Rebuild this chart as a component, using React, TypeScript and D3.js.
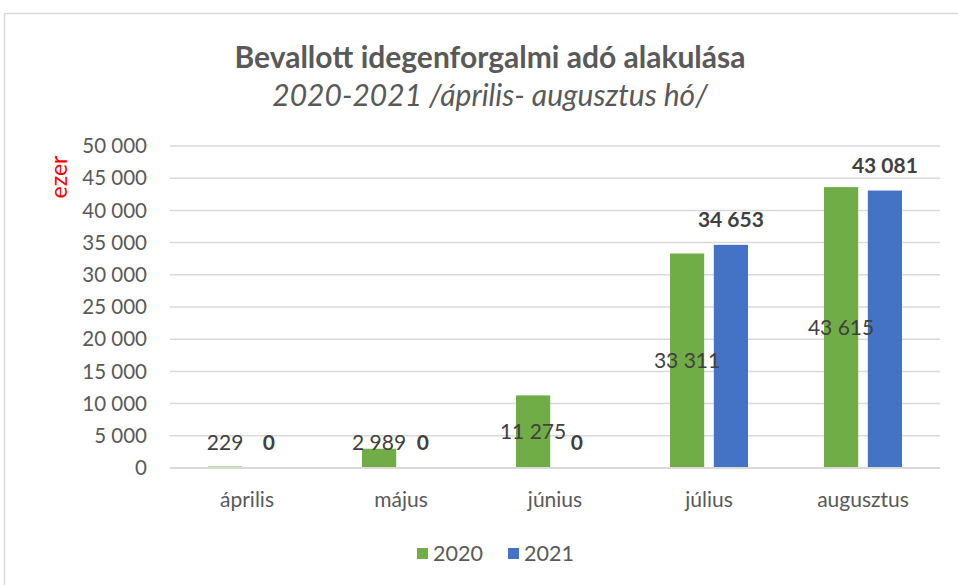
import * as d3 from "d3";
import { useEffect, useRef } from "react";

const months = ["április", "május", "június", "július", "augusztus"];
const seriesNames = ["2020", "2021"];
const values2020 = [229, 2989, 11275, 33311, 43615];
const values2021 = [0, 0, 0, 34653, 43081];
const yTicks = [0, 5000, 10000, 15000, 20000, 25000, 30000, 35000, 40000, 45000, 50000];

const colors = { "2020": "#70ad47", "2021": "#4472c4" };
const textColor = "#595959";
const font = "Lato, 'Open Sans', sans-serif";

function App() {
  const ref = useRef(null);

  useEffect(() => {
    const svg = d3.select(ref.current);
    svg.selectAll("*").remove();

    const width = 958;
    const height = 585;
    const left = 170;
    const right = 940;
    const top = 146;
    const bottom = 468;

    const fmt = d3.formatLocale({
      decimal: ",",
      thousands: " ",
      grouping: [3],
      currency: ["", ""],
    }).format(",d");

    svg.attr("width", width).attr("height", height);

    // outer frame (top + left edge)
    svg
      .append("path")
      .attr("d", `M4.5,${height} V13.5 H${width}`)
      .attr("fill", "none")
      .attr("stroke", "#d9d9d9")
      .attr("stroke-width", 1.5);

    const x0 = d3.scaleBand().domain(months).range([left, right]).padding(0);
    const pair = 78;
    const x1 = d3
      .scaleBand()
      .domain(seriesNames)
      .range([(x0.bandwidth() - pair) / 2, (x0.bandwidth() + pair) / 2])
      .paddingInner(0.22);
    const y = d3.scaleLinear().domain([0, 50000]).range([bottom, top]);

    // gridlines
    svg
      .append("g")
      .selectAll("line")
      .data(yTicks.filter((d) => d > 0))
      .join("line")
      .attr("x1", left)
      .attr("x2", right)
      .attr("y1", (d) => y(d))
      .attr("y2", (d) => y(d))
      .attr("stroke", "#d9d9d9")
      .attr("stroke-width", 1.5);

    // y tick labels
    svg
      .append("g")
      .selectAll("text")
      .data(yTicks)
      .join("text")
      .attr("x", 147)
      .attr("y", (d) => y(d))
      .attr("dy", "0.35em")
      .attr("text-anchor", "end")
      .attr("font-family", font)
      .attr("font-size", 20.5)
      .attr("fill", textColor)
      .text((d) => fmt(d));

    // y axis title
    svg
      .append("text")
      .attr("transform", "translate(67,177) rotate(-90)")
      .attr("text-anchor", "middle")
      .attr("font-family", font)
      .attr("font-size", 23)
      .attr("fill", "#ff0000")
      .text("ezer");

    const rows = months.map((m, i) => ({
      month: m,
      items: [
        { key: "2020", value: values2020[i] },
        { key: "2021", value: values2021[i] },
      ],
    }));

    const groups = svg
      .append("g")
      .selectAll("g")
      .data(rows)
      .join("g")
      .attr("transform", (d) => `translate(${x0(d.month)},0)`);

    groups
      .selectAll("rect")
      .data((d) => d.items)
      .join("rect")
      .attr("x", (d) => x1(d.key))
      .attr("width", x1.bandwidth())
      .attr("y", (d) => y(d.value))
      .attr("height", (d) => y(0) - y(d.value))
      .attr("fill", (d) => colors[d.key]);

    // baseline over the bars
    svg
      .append("line")
      .attr("x1", left)
      .attr("x2", right)
      .attr("y1", y(0))
      .attr("y2", y(0))
      .attr("stroke", "#d9d9d9")
      .attr("stroke-width", 2);

    // 2020 labels: centered in bar
    groups
      .append("text")
      .attr("x", x1("2020") + x1.bandwidth() / 2)
      .attr("y", (d) => Math.min((y(0) + y(d.items[0].value)) / 2, y(0) - 25))
      .attr("dy", "0.35em")
      .attr("text-anchor", "middle")
      .attr("font-family", font)
      .attr("font-size", 21)
      .attr("fill", "#404040")
      .text((d) => fmt(d.items[0].value));

    // 2021 labels: bold, above bar
    groups
      .append("text")
      .attr("x", x1("2021") + x1.bandwidth() / 2)
      .attr("y", (d) => y(d.items[1].value) - 25)
      .attr("dy", "0.35em")
      .attr("text-anchor", "middle")
      .attr("font-family", font)
      .attr("font-size", 21)
      .attr("font-weight", "bold")
      .attr("fill", "#404040")
      .text((d) => fmt(d.items[1].value));

    // x labels
    svg
      .append("g")
      .selectAll("text")
      .data(months)
      .join("text")
      .attr("x", (d) => x0(d) + x0.bandwidth() / 2)
      .attr("y", 500)
      .attr("dy", "0.35em")
      .attr("text-anchor", "middle")
      .attr("font-family", font)
      .attr("font-size", 21)
      .attr("fill", textColor)
      .text((d) => d);

    // title
    svg
      .append("text")
      .attr("x", 490)
      .attr("y", 57)
      .attr("dy", "0.35em")
      .attr("text-anchor", "middle")
      .attr("font-family", font)
      .attr("font-size", 30)
      .attr("font-weight", "bold")
      .attr("fill", textColor)
      .text("Bevallott idegenforgalmi adó alakulása");

    svg
      .append("text")
      .attr("x", 490)
      .attr("y", 95)
      .attr("dy", "0.35em")
      .attr("text-anchor", "middle")
      .attr("font-family", font)
      .attr("font-size", 30)
      .attr("font-style", "italic")
      .attr("fill", textColor)
      .text("2020-2021 /április- augusztus hó/");

    // legend
    const legendX = [417, 508];
    const legend = svg
      .append("g")
      .selectAll("g")
      .data(seriesNames)
      .join("g")
      .attr("transform", (d, i) => `translate(${legendX[i]},548)`);
    legend
      .append("rect")
      .attr("width", 11)
      .attr("height", 11)
      .attr("fill", (d) => colors[d]);
    legend
      .append("text")
      .attr("x", 16)
      .attr("y", 5.5)
      .attr("dy", "0.35em")
      .attr("font-family", font)
      .attr("font-size", 21.5)
      .attr("fill", textColor)
      .text((d) => d);
  }, []);

  return (
    <div style={{ position: "absolute", left: 0, top: 0, background: "#fff" }}>
      <svg ref={ref} style={{ display: "block" }} />
    </div>
  );
}

export default App;
